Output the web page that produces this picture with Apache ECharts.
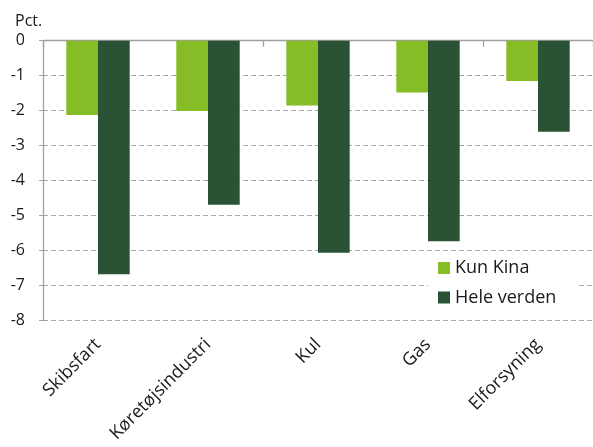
<!DOCTYPE html>
<html>
<head>
<meta charset="utf-8">
<script src="https://cdn.jsdelivr.net/npm/echarts@6/dist/echarts.min.js"></script>
<style>
html,body{margin:0;padding:0;background:#fff;}
#chart{width:593px;height:447px;}
</style>
</head>
<body>
<div id="chart"></div>
<script>
const categories = ['Skibsfart', 'Køretøjsindustri', 'Kul', 'Gas', 'Elforsyning'];
const kunKina = [-2.12, -2.01, -1.85, -1.48, -1.15];
const heleVerden = [-6.67, -4.69, -6.06, -5.73, -2.60];
const seriesNames = ['Kun Kina', 'Hele verden'];
const yTicks = { min: -8, max: 0, interval: 1 };
const unitLabel = 'Pct.';

const FONT = '"Open Sans", "Noto Sans", sans-serif';
const chart = echarts.init(document.getElementById('chart'), null, { renderer: 'canvas' });
chart.setOption({
  animation: false,
  backgroundColor: '#ffffff',
  textStyle: { fontFamily: FONT },
  title: {
    text: unitLabel, left: 10, top: 8,
    textStyle: { fontFamily: FONT, fontSize: 16, fontWeight: 'normal', color: '#1a1a1a' }
  },
  grid: { left: 43, top: 40.7, height: 280, width: 553 },
  legend: {
    orient: 'vertical',
    left: 428, top: 255,
    padding: [3, 20, 3, 10],
    backgroundColor: '#ffffff',
    itemWidth: 12, itemHeight: 12, itemGap: 9.5,
    icon: 'rect',
    textStyle: { fontFamily: FONT, fontSize: 18, color: '#1a1a1a', lineHeight: 20 },
    data: seriesNames
  },
  xAxis: [
    {
      type: 'category', data: categories, position: 'top',
      axisLine: { show: true, lineStyle: { color: '#a0a0a0', width: 1.3 } },
      axisTick: { show: true, inside: true, length: 6, lineStyle: { color: '#a0a0a0', width: 1.3 } },
      axisLabel: { show: false },
      splitLine: { show: false }
    },
    {
      type: 'category', data: categories, position: 'bottom',
      axisLine: { show: false, onZero: false },
      axisTick: { show: false },
      axisLabel: { rotate: 45, margin: 21, fontSize: 18, fontFamily: FONT, color: '#1a1a1a' },
      splitLine: { show: false }
    }
  ],
  yAxis: {
    type: 'value', min: yTicks.min, max: yTicks.max, interval: yTicks.interval,
    axisLine: { show: true, lineStyle: { color: '#a0a0a0', width: 1.3 } },
    axisTick: { show: true, length: 7, lineStyle: { color: '#a6a6a6', type: [4, 3] } },
    axisLabel: { fontSize: 16, fontFamily: FONT, color: '#1a1a1a', margin: 18 },
    splitLine: { show: true, lineStyle: { color: '#a6a6a6', type: [5, 3], width: 1.2 } }
  },
  series: [
    {
      name: seriesNames[0], type: 'bar', xAxisIndex: 0, data: kunKina,
      barWidth: 31.7, barGap: '0%',
      itemStyle: { color: '#86bc25' }
    },
    {
      name: seriesNames[1], type: 'bar', xAxisIndex: 0, data: heleVerden,
      barWidth: 31.7, barGap: '0%',
      itemStyle: { color: '#2a5335' }
    }
  ]
});
</script>
</body>
</html>
